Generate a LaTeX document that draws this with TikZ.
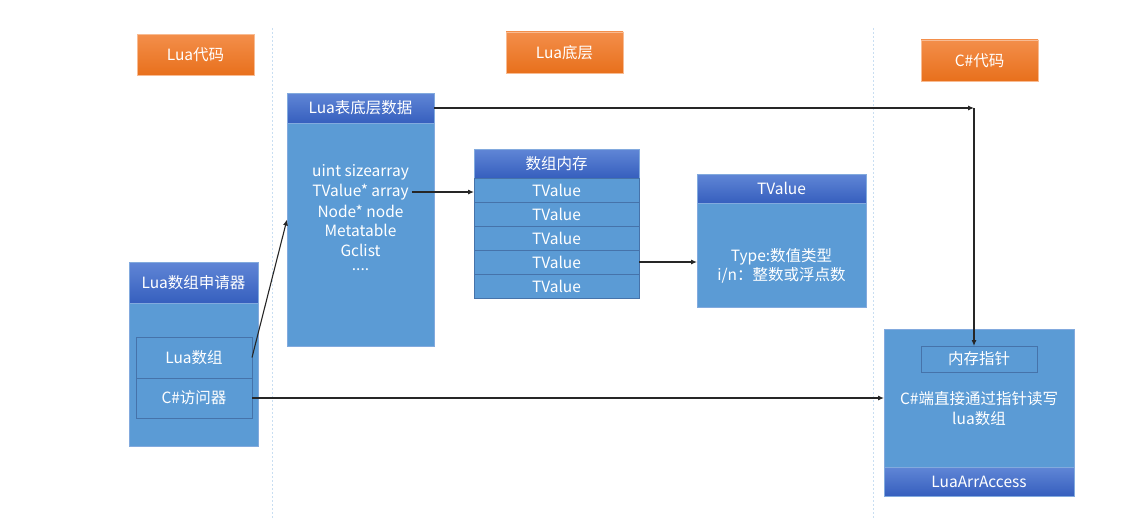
\documentclass[tikz,border=0pt]{standalone}
\usepackage{fontspec}
\setmainfont{Noto Sans CJK SC}
\usetikzlibrary{arrows.meta,positioning}
\definecolor{bodyblue}{RGB}{91,155,213}
\definecolor{boxline}{RGB}{130,170,222}
\definecolor{rowline}{RGB}{70,115,170}
\definecolor{headtop}{RGB}{96,134,214}
\definecolor{headbot}{RGB}{54,95,190}
\definecolor{tagtop}{RGB}{243,142,74}
\definecolor{tagbot}{RGB}{232,112,28}
\definecolor{linkgray}{RGB}{38,38,38}
\definecolor{dashblue}{RGB}{200,222,242}
\tikzset{
  txt/.style={text=white,font=\fontsize{15.5}{19.5}\selectfont},
  body/.style={draw=boxline,fill=bodyblue,line width=.6pt,anchor=north west,inner sep=0,outer sep=0},
  head/.style={txt,draw=boxline,top color=headtop,bottom color=headbot,line width=.6pt,anchor=north west,inner sep=0,outer sep=0},
  row/.style={txt,draw=rowline,fill=bodyblue,line width=.6pt,inner sep=0,outer sep=0,minimum width=165pt,minimum height=24pt},
  tag/.style={txt,draw=tagtop!60!white,top color=tagtop,bottom color=tagbot,line width=.6pt,inner sep=0,minimum width=117pt,minimum height=41pt},
  field/.style={txt,inner sep=0},
  link/.style={draw=linkgray,line width=1.1pt,-{Latex[length=6pt,width=5pt]}},
  divider/.style={draw=dashblue,line width=1pt,dash pattern=on 2pt off 2pt}
}
\begin{document}
\begin{tikzpicture}[x=1pt,y=-1pt]
\useasboundingbox (0,0) rectangle (1127,519);
% column dividers
\draw[divider] (272,28) -- (272,519);
\draw[divider] (873,28) -- (873,519);
% column titles
\node[tag] (luacode) at (195.5,55) {Lua代码};
\node[tag] (luacore) at (564.5,52.5) {Lua底层};
\node[tag] (cscode) at (979.5,60.5) {C\#代码};
% Lua array allocator
\node[body,minimum width=129pt,minimum height=184pt] (alloc) at (129,262) {};
\node[head,minimum width=129pt,minimum height=41pt] (allochd) at (129,262) {Lua数组申请器};
\node[row,minimum width=116pt,minimum height=41pt,anchor=north west] (arr) at (136,337) {Lua数组};
\node[row,minimum width=116pt,minimum height=40pt,below=0pt of arr] (acc) {C\#访问器};
% Lua table data
\node[body,minimum width=147pt,minimum height=253pt] (tbl) at (287,93) {};
\node[head,minimum width=147pt,minimum height=30pt] (tblhd) at (287,93) {Lua表底层数据};
\node[field] (f1) at (360.5,172) {uint sizearray};
\node[field] (f2) at (360.5,192) {TValue* array};
\node[field] (f3) at (360.5,211) {Node* node};
\node[field] (f4) at (360.5,230.5) {Metatable};
\node[field] (f5) at (360.5,250) {Gclist};
\node[field] (f6) at (360.5,270) {....};
% array memory
\node[head,minimum width=165pt,minimum height=29pt] (mem) at (474,149) {数组内存};
\node[row,below=0pt of mem] (r1) {TValue};
\node[row,below=0pt of r1] (r2) {TValue};
\node[row,below=0pt of r2] (r3) {TValue};
\node[row,below=0pt of r3] (r4) {TValue};
\node[row,below=0pt of r4] (r5) {TValue};
% TValue
\node[body,minimum width=169pt,minimum height=133pt] (tv) at (697,174) {};
\node[head,minimum width=169pt,minimum height=29pt] (tvhd) at (697,174) {TValue};
\node[field,align=center] (tvtxt) at (781.5,266) {Type:数值类型\\i/n：整数或浮点数};
% C# accessor
\node[body,minimum width=190pt,minimum height=167pt] (cs) at (884,329) {};
\node[head,minimum width=190pt,minimum height=29pt] (cshd) at (884,467) {LuaArrAccess};
\node[row,minimum width=116pt,minimum height=26pt,anchor=north west] (ptr) at (921,346) {内存指针};
\node[field,align=center] (cstxt) at (979,408.5) {C\#端直接通过指针读写\\lua数组};
% links
\coordinate (bend) at ([xshift=-5pt]ptr.north |- tblhd.east);
\draw[link] (arr.east) -- (tbl.west);
\draw[link] ([xshift=3pt]f2.east) -- (f2.east -| r1.west);
\draw[link] (r4.east) -- (r4.east -| tv.west);
\draw[link] (tblhd.east) -- (bend);
\draw[link] (bend) -- (bend |- ptr.north);
\draw[link] (acc.east) -- (acc.east -| cs.west);
\end{tikzpicture}
\end{document}
